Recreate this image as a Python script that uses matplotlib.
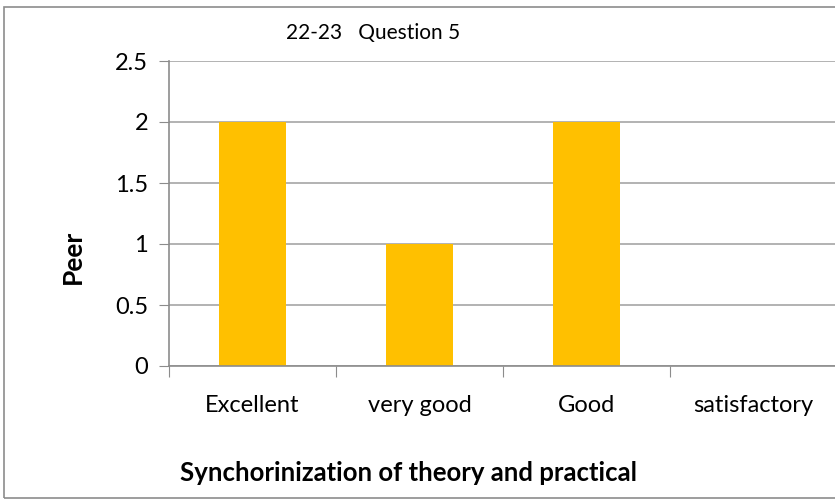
import matplotlib.pyplot as plt
from matplotlib.patches import Rectangle

categories = ['Excellent', 'very good', 'Good', 'satisfactory']
values = [2, 1, 2, 0]
yticks = [0, 0.5, 1, 1.5, 2, 2.5]
ytick_labels = ['0', '0.5', '1', '1.5', '2', '2.5']

W, H = 835, 499
plt.rcParams['font.family'] = ['Lato', 'DejaVu Sans']
fig = plt.figure(figsize=(W / 100, H / 100), dpi=100)

# outer chart border (right edge runs off the image)
fig.patches.append(Rectangle((4 / W, 1 - 498 / H), 900 / W, 491 / H,
                             transform=fig.transFigure, fill=False,
                             edgecolor='#8c8c8c', lw=1.2))

left, right, top, bottom = 169, 837, 61, 366
ax = fig.add_axes([left / W, 1 - bottom / H, (right - left) / W, (bottom - top) / H])

x = range(len(categories))
ax.bar(x, values, width=0.4, color='#FFC000', zorder=2)

ax.set_xlim(-0.5, len(categories) - 0.5)
ax.set_ylim(0, 2.5)
ax.set_yticks(yticks)
ax.set_yticklabels(ytick_labels, fontsize=17)
ax.yaxis.grid(True, color='#a6a6a6', lw=1.2, zorder=0)

ax.set_xticks([i - 0.5 for i in range(len(categories))])
ax.set_xticklabels([])
ax.set_xticks(list(x), minor=True)
ax.set_xticklabels(categories, minor=True, fontsize=17)
ax.tick_params(axis='x', which='minor', length=0, pad=21)
ax.tick_params(axis='x', which='major', length=8, color='#8c8c8c')
ax.tick_params(axis='y', length=7, color='#8c8c8c', pad=8)

for s in ['top', 'right']:
    ax.spines[s].set_visible(False)
for s in ['left', 'bottom']:
    ax.spines[s].set_color('#8c8c8c')
    ax.spines[s].set_linewidth(1.2)

fig.text(373 / W, 1 - 33 / H, '22-23   Question 5', fontsize=15, ha='center', va='center')
fig.text(73 / W, 1 - 257 / H, 'Peer', fontsize=19, fontweight='bold',
         rotation=90, ha='center', va='center')
fig.text(408 / W, 1 - 473 / H, 'Synchorinization of theory and practical',
         fontsize=18.5, fontweight='bold', ha='center', va='center')

fig.savefig('out.png', dpi=100)
